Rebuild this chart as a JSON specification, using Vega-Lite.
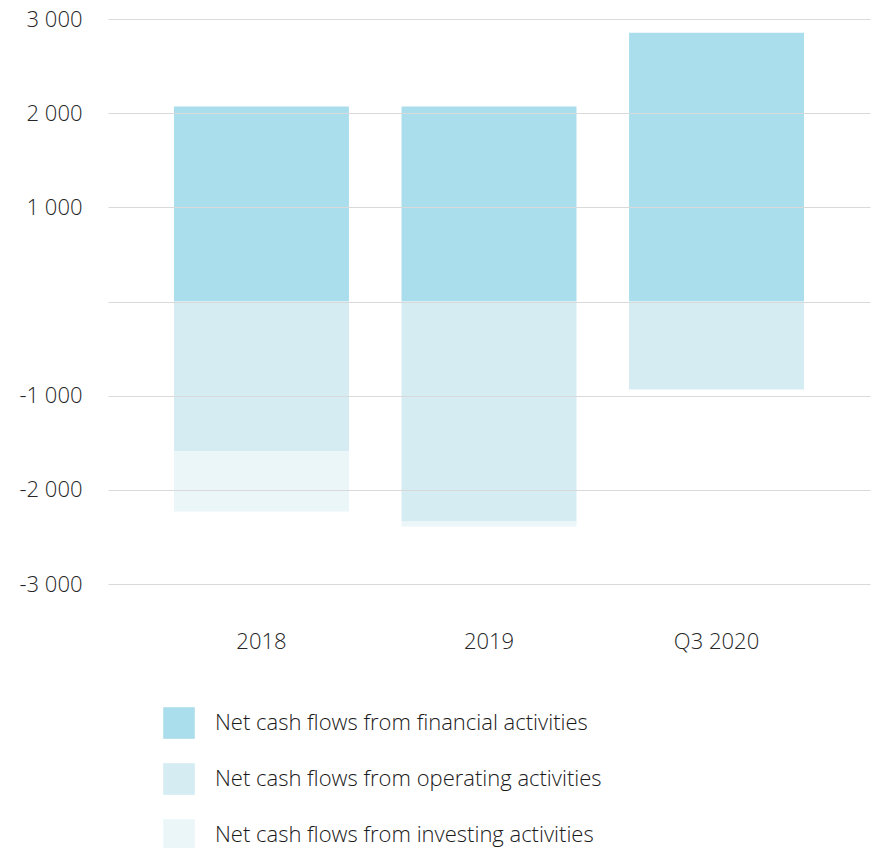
{
  "$schema": "https://vega.github.io/schema/vega-lite/v6.json",
  "width": 762,
  "height": 565,
  "padding": {"left": 108, "top": 19, "right": 1, "bottom": 264},
  "autosize": {"type": "none"},
  "background": "white",
  "config": {
    "view": {"stroke": null},
    "font": "Open Sans"
  },
  "data": {
    "values": [
      {"period": "2018", "type": "Net cash flows from financial activities", "ord": 1, "value": 2070},
      {"period": "2018", "type": "Net cash flows from operating activities", "ord": 2, "value": -1590},
      {"period": "2018", "type": "Net cash flows from investing activities", "ord": 3, "value": -640},
      {"period": "2019", "type": "Net cash flows from financial activities", "ord": 1, "value": 2070},
      {"period": "2019", "type": "Net cash flows from operating activities", "ord": 2, "value": -2335},
      {"period": "2019", "type": "Net cash flows from investing activities", "ord": 3, "value": -55},
      {"period": "Q3 2020", "type": "Net cash flows from financial activities", "ord": 1, "value": 2855},
      {"period": "Q3 2020", "type": "Net cash flows from operating activities", "ord": 2, "value": -930},
      {"period": "Q3 2020", "type": "Net cash flows from investing activities", "ord": 3, "value": -10}
    ]
  },
  "mark": {"type": "bar"},
  "encoding": {
    "x": {
      "field": "period",
      "type": "nominal",
      "sort": ["2018", "2019", "Q3 2020"],
      "scale": {"paddingInner": 0.231, "paddingOuter": 0.29},
      "axis": {
        "title": null,
        "labelAngle": 0,
        "domain": false,
        "ticks": false,
        "labelFontSize": 22,
        "labelFontWeight": 300,
        "labelColor": "#262626",
        "labelPadding": 47
      }
    },
    "y": {
      "field": "value",
      "type": "quantitative",
      "stack": "zero",
      "scale": {"domain": [-3000, 3000], "nice": false},
      "axis": {
        "title": null,
        "values": [-3000, -2000, -1000, 0, 1000, 2000, 3000],
        "domain": false,
        "ticks": false,
        "grid": true,
        "gridColor": "#d9d9d9",
        "gridWidth": 1,
        "zindex": 1,
        "labelFontSize": 22,
        "labelFontWeight": 300,
        "labelColor": "#262626",
        "labelPadding": 26,
        "labelExpr": "datum.value == 0 ? '' : replace(replace(format(datum.value, ','), ',', ' '), '\u2212', '-')"
      }
    },
    "color": {
      "field": "type",
      "type": "nominal",
      "sort": ["Net cash flows from financial activities", "Net cash flows from operating activities", "Net cash flows from investing activities"],
      "scale": {
        "domain": ["Net cash flows from financial activities", "Net cash flows from operating activities", "Net cash flows from investing activities"],
        "range": ["#abdeed", "#d5ecf2", "#eaf6f8"]
      },
      "legend": {
        "title": null,
        "orient": "none",
        "legendX": 55,
        "legendY": 688,
        "symbolType": "square",
        "symbolSize": 1000,
        "symbolStrokeWidth": 0,
        "symbolOpacity": 1,
        "labelFontSize": 22,
        "labelFontWeight": 300,
        "labelColor": "#1a1a1a",
        "labelOffset": 20,
        "rowPadding": 24,
        "labelLimit": 600,
        "padding": 0
      }
    },
    "order": {"field": "ord", "type": "quantitative"}
  }
}
